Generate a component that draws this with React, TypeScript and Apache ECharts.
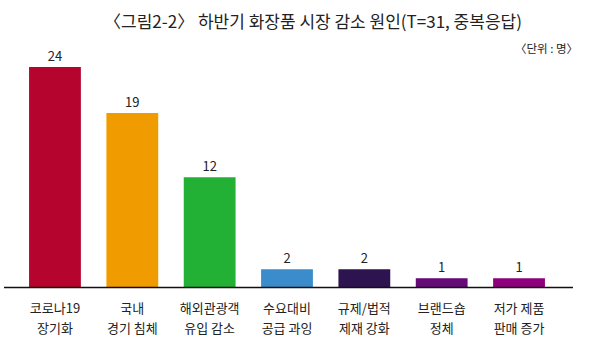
import React, { useEffect, useRef } from "react";
import * as echarts from "echarts";

const categories = [
  "코로나19\n장기화",
  "국내\n경기 침체",
  "해외관광객\n유입 감소",
  "수요대비\n공급 과잉",
  "규제/법적\n제재 강화",
  "브랜드숍\n정체",
  "저가 제품\n판매 증가",
];
const values = [24, 19, 12, 2, 2, 1, 1];
const colors = ["#B5052E", "#F09B00", "#22B035", "#3A8DCA", "#2D1350", "#660A78", "#8F007C"];
const titleText = "〈그림2-2〉 하반기 화장품 시장 감소 원인(T=31, 중복응답)";
const unitText = "〈단위 : 명〉";

const FONT = "'Noto Sans CJK KR', 'Noto Sans', sans-serif";

export default function App() {
  const ref = useRef<HTMLDivElement>(null);
  useEffect(() => {
    if (!ref.current) return;
    const chart = echarts.init(ref.current, undefined, { renderer: "svg" });
    chart.setOption({
      animation: false,
      backgroundColor: "#ffffff",
      title: {
        text: titleText,
        left: 308,
        textAlign: "center",
        top: 7,
        textStyle: { fontFamily: FONT, fontSize: 17, fontWeight: "normal", color: "#222" },
      },
      graphic: [
        {
          type: "text",
          right: 28,
          top: 42,
          style: { text: unitText, fontFamily: FONT, fontSize: 11.5, fill: "#222" },
        },
        {
          type: "line",
          shape: { x1: 4, y1: 287.5, x2: 573, y2: 287.5 },
          style: { stroke: "#111", lineWidth: 1.5 },
          z: 10,
        },
      ],
      grid: { left: 16.3, right: 48.3, top: 67, bottom: 70.5, containLabel: false },
      xAxis: {
        type: "category",
        data: categories,
        axisLine: { show: false },
        axisTick: { show: false },
        axisLabel: {
          interval: 0,
          margin: 10,
          fontFamily: FONT,
          fontSize: 13,
          lineHeight: 20,
          color: "#222",
        },
      },
      yAxis: {
        type: "value",
        min: 0,
        max: 24,
        show: false,
        splitLine: { show: false },
      },
      series: [
        {
          type: "bar",
          barWidth: "67%",
          data: values.map((v, i) => ({ value: v, itemStyle: { color: colors[i] } })),
          label: {
            show: true,
            position: "top",
            distance: 5,
            fontFamily: FONT,
            fontSize: 13,
            color: "#222",
          },
        },
      ],
    });
    return () => chart.dispose();
  }, []);
  return <div ref={ref} style={{ width: 606, height: 358, position: "absolute", left: 0, top: 0 }} />;
}
